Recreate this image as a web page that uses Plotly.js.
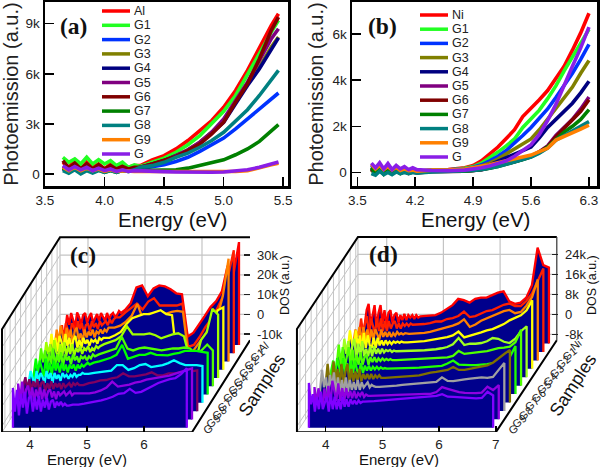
<!DOCTYPE html>
<html><head><meta charset="utf-8">
<script src="https://cdn.plot.ly/plotly-3.0.1.min.js"></script>
<style>html,body{margin:0;padding:0;background:#fff}#p{width:600px;height:467px}</style>
</head><body><div id="p"></div>
<script>
const namesA=['Al','G1','G2','G3','G4','G5','G6','G7','G8','G9','G'];
const namesB=['Ni','G1','G2','G3','G4','G5','G6','G7','G8','G9','G'];
const colorsAB=['#ff0000','#22ff22','#0033ff','#808000','#000080','#800080','#800000','#008000','#008080','#ff8000','#8a1ee6'];
const colorsC=['#ff0000','#ff2000','#ff8000','#ffff00','#a0ff00','#50ff00','#00ff00','#00ffff','#800060','#9000e0','#8000ff'];
const colorsD=['#ff0000','#ff2000','#ff8000','#ffff00','#a0ff20','#50ff00','#20ff00','#807000','#a0a0a0','#9000e0','#8000ff'];

// panel (a) photoemission (k a.u.)
const energyA=[3.65,3.7,3.75,3.8,3.85,3.9,3.95,4,4.05,4.1,4.15,4.2,4.25,4.3,4.4,4.5,4.6,4.7,4.8,4.9,5,5.1,5.2,5.3,5.4,5.46];
const a_Al=[.7,.4,.8,.3,.7,.4,.6,.3,.6,.4,.5,.4,.5,.5,.85,1.1,1.5,2,2.6,3.2,4,5,6.2,7.6,8.9,9.6];
const a_G1=[1,.7,.9,.6,1,.6,.85,.6,.8,.5,.7,.4,.55,.45,.7,.95,1.3,1.75,2.3,3,3.75,4.7,5.9,7.2,8.5,9.2];
const a_G2=[.35,.2,.4,.15,.35,.2,.3,.15,.3,.2,.25,.2,.25,.3,.4,.55,.75,1,1.35,1.75,2.15,2.7,3.3,3.9,4.5,4.85];
const a_G3=[.4,.15,.35,.2,.35,.15,.3,.2,.3,.2,.3,.2,.3,.4,.6,.8,1.1,1.45,1.9,2.5,3.2,4.3,5.4,6.4,7.6,8.2];
const a_G4=[.3,.15,.35,.1,.3,.15,.3,.15,.3,.2,.3,.25,.3,.4,.6,.8,1.1,1.4,1.85,2.45,3.1,4.2,5.3,6.3,7.5,8.15];
const a_G5=[.45,.2,.4,.2,.4,.2,.35,.15,.3,.2,.3,.25,.3,.4,.6,.8,1.1,1.45,1.9,2.5,3.3,4.4,5.5,6.8,8.1,8.7];
const a_G6=[.8,.35,.65,.3,.6,.3,.55,.3,.5,.3,.45,.3,.4,.4,.6,.8,1.05,1.4,1.8,2.4,3.1,4.3,5.4,6.9,8.6,9.4];
const a_G7=[.35,.1,.3,.1,.25,.1,.25,.1,.2,.1,.2,.15,.2,.2,.2,.2,.25,.35,.5,.65,.85,1.15,1.5,1.95,2.6,2.95];
const a_G8=[.2,.05,.25,0,.2,.05,.2,.1,.2,.1,.2,.15,.25,.4,.5,.7,1,1.25,1.6,2,2.5,3.2,3.85,4.7,5.6,6.2];
const a_G9=[.4,.2,.4,.2,.35,.2,.3,.15,.25,.15,.2,.15,.15,.15,.15,.12,.1,.1,.1,.1,.12,.15,.2,.35,.55,.65];
const a_G=[.5,.25,.45,.25,.4,.2,.35,.2,.3,.15,.25,.15,.2,.18,.16,.14,.12,.1,.1,.1,.12,.18,.25,.4,.6,.72];

// panel (b)
const energyB=[3.67,3.72,3.77,3.82,3.87,3.92,3.97,4.02,4.07,4.12,4.17,4.22,4.4,4.6,4.8,4.9,5,5.1,5.2,5.3,5.4,5.5,5.6,5.7,5.8,5.9,6,6.1,6.2,6.3];
const b_Ni=[.2,.1,.22,.08,.2,.05,.15,.05,.12,.04,.08,.05,.1,.12,.2,.3,.5,.8,1.1,1.47,1.85,2.42,2.77,3.15,3.55,4.05,4.6,5.3,6.05,6.9];
const b_G1=[.15,.05,.18,.05,.15,.05,.12,.04,.1,.05,.08,.05,.1,.1,.18,.25,.4,.62,.88,1.15,1.45,1.95,2.3,2.7,3.2,3.75,4.4,5,5.6,6.2];
const b_G2=[.3,.1,.25,.1,.2,.05,.15,.05,.12,.05,.1,.05,.08,.1,.15,.22,.33,.5,.7,.95,1.25,1.6,1.95,2.35,2.75,3.25,3.75,4.3,4.9,5.55];
const b_G3=[.1,-.05,.12,-.02,.1,0,.08,0,.05,0,.05,0,.08,.08,.12,.18,.28,.4,.58,.8,1.05,1.25,1.45,1.85,2.3,2.8,3.2,3.7,4.3,4.85];
const b_G4=[.2,.05,.2,0,.15,0,.12,0,.1,0,.05,0,.06,.06,.1,.15,.22,.33,.48,.65,.8,.95,1.1,1.5,1.95,2.3,2.65,3,3.45,3.95];
const b_G5=[.15,-.05,.15,-.05,.1,-.05,.08,-.03,.05,-.03,.05,0,.04,.03,.05,.08,.12,.2,.28,.38,.47,.58,.7,.9,1.15,1.6,1.95,2.3,2.75,3.27];
const b_G6=[.15,0,.12,-.05,.1,-.05,.1,-.03,.05,-.05,.02,-.02,.04,.03,.05,.08,.12,.2,.28,.37,.46,.57,.7,.88,1.12,1.55,1.9,2.25,2.65,3.15];
const b_G7=[.2,-.05,.15,-.08,.1,-.05,.08,-.05,.05,-.03,.02,0,.04,.03,.05,.08,.12,.18,.26,.35,.45,.56,.68,.85,1.1,1.45,1.75,2,2.3,2.72];
const b_G8=[-.05,-.12,.05,-.1,0,-.1,.02,-.05,0,-.05,0,-.03,.02,.03,.05,.08,.12,.18,.26,.35,.45,.55,.67,.83,1.05,1.4,1.6,1.8,2,2.2];
const b_G9=[.35,.15,.3,.12,.25,.1,.22,.08,.15,.08,.1,.05,.1,.1,.15,.2,.25,.33,.42,.5,.58,.65,.75,.9,1.05,1.4,1.55,1.7,1.88,2.05];
const b_G=[.4,.2,.42,.15,.38,.12,.3,.15,.25,.12,.2,.12,.08,.07,.1,.14,.2,.28,.38,.5,.7,.95,1.2,1.65,2.25,2.95,3.8,4.6,5.4,6.3];

// panel (c) DOS (k a.u.), back to front
const energyC=[3.65,3.685,3.72,3.755,3.79,3.825,3.86,3.895,3.93,3.965,4,4.035,4.07,4.105,4.14,4.175,4.21,4.245,4.28,4.315,4.35,4.385,4.42,4.455,4.49,4.525,4.56,4.595,4.63,4.7,4.8,4.9,5,5.1,5.2,5.3,5.4,5.5,5.6,5.7,5.8,5.9,6,6.1,6.2,6.3,6.4,6.5,6.6,6.7];
const c_Al=[-6,2,-3,3,-1,-4,3.3,1,-3,2,3,-2,1,3,-2,0,2.5,-1,3,1,-1,3,0,2,3,1,2,4,3, 4.5,8,16,17,11.5,15.5,17,16.5,15,13,12.5,-9,-7,-3,1.5,6,9,14,27,22,39];
const c_G1=[-9,1,-6,2,-2,-5,2,0,-4,3,-1,2,-3,1,2,-2,3,0,2,-1,3,1,2,3,1,4,2,4,5, 5,7.5,10,12,9,13,14.7,11,11,11,11,12,-10,-9,-5,0,4,9,15,26,39];
const c_G2=[-6,3,-4,5,0,-5,4,-2,3,-4,2,4,-2,1,-3,3,-1,2,0,3,-1,2,1,3,1,3,2,4,4, 4,5,7,10,16,8,11,11,11.5,11,12,12.5,12,-11,-7,-3,1,5,9,20,39];
const c_G3=[-5,5,-2,3,-4,4,1,-4,5,-1,3,-3,2,4,-2,2,-2,3,0,2,-1,2,1,2,0,3,2,3,3, 3,4.3,6,10,13,14,15,15,16,17,15,14.5,-11,-11,-9,-7,-3,2,10,17,18.5];
const c_G4=[-4,5,-1,4,-3,6,0,-3,4,-2,5,-2,3,-1,4,-2,2,0,3,-1,2,1,3,0,2,1,3,2,3, 4,5,6,8,13,9,9,9,9.5,8.5,7,8,9,9.5,8,-3,-5,6,10,22,19];
const c_G5=[-4,6,-1,5,-3,4,-2,6,-3,3,-1,4,-3,3,0,2,-2,3,0,2,-1,2,1,2,0,2,1,3,2, 3,4,5,6,12,6,5,6,6.5,6,5.5,5,5.5,6,6,6.5,6,3,5,8,5];
const c_G6=[-3,5,-2,4,0,-4,5,-2,3,-3,4,-1,3,-2,3,-1,2,-2,2,0,2,-1,2,0,2,1,2,3,2, 3,3.7,4.5,5.5,7,12,5,6,7,7,8,7,7,6.7,7.5,8,9,9,9,8.5,8];
const c_G7=[-3,3,-1,-4,3,-2,2,0,-3,3,-1,2,-3,2,-1,1,-2,2,0,1,-1,1,0,2,0,1,1,2,1.5, 1.5,2,2.5,2.8,3.2,6,6,3.5,4.4,6,6.5,5,5.5,6,7,8.4,7,6,6,6,5.5];
const c_G8=[0,4,-2,3,-3,2,-1,3,-3,1,2,-3,1,-2,2,-2,1,-1,1,-2,1,-1,0,1,-1,1,0,1,0, 0,1,1.5,2.4,2.6,3.5,4,6,4.5,4.5,5,5.5,6.5,5,5,6,6,6.5,7,7,7.5];
const c_G9=[5,-3,6,-4,2,4,-3,3,-4,2,-2,3,-3,2,-3,1,2,-2,1,-3,1,-1,0,1,-1,0,1,-1,0, 0,0,0,.5,1.5,3,6,3.5,4,4.5,5.5,6,7,7.6,8,8.5,9,10,11,12,12.7];
const c_G=[7,-5,6,-7,4,-3,5,-6,2,3,-5,2,-4,3,-5,1,-3,2,-4,0,1,-3,0,-2,0,-2,-1,-2,-2, -1.5,-1.5,-1,-.5,0,.7,1.5,2.5,4,4.3,6.5,4.5,5,6.7,8,9.5,10.5,11.5,12,14,17];

// panel (d)
const energyD=[3.65,3.685,3.72,3.755,3.79,3.825,3.86,3.895,3.93,3.965,4,4.035,4.07,4.105,4.14,4.175,4.21,4.245,4.28,4.315,4.35,4.385,4.42,4.455,4.49,4.525,4.56,4.595,4.63,4.7,4.8,4.9,5,5.1,5.2,5.3,5.4,5.5,5.6,5.7,5.8,5.9,6,6.1,6.2,6.3,6.4,6.5,6.6,6.7,6.8,6.9];
const d_Ni=[-3,3,5.5,-3,1,5,-4,2,5,-2,3,-3,2,3,-2,1,2,-2,1,-1,1.5,-1,1,0,1,-.5,1,0,.5, .6,.8,1,2,3.5,5,7.5,7,6,7.5,8,8,9,10,10.5,6.5,5.5,6,8,13,28,21,20];
const d_G1=[-4,3,-3,1,4,-4,3,0,-3,3,-2,3,-2,2,-2,2,-1,1,2,-1,1,-1,1,0,1,0,1,.5,.5, .6,.8,1.2,1.8,1.8,2.8,3.2,4,5.8,3.6,4,5,6,6.4,7.5,8.5,9,8,8,10,13,18,23];
const d_G2=[-3,2,-1,3,-3,3,-2,2,-3,2,-2,2,0,-2,2,-1,1,-1,1,-1,.5,-.5,1,0,.5,0,.5,.2,.2, .3,.4,.6,1,1.6,2.2,3,3.5,4.4,6,3,4,5.5,6.5,7.5,8.5,9.3,9.8,8.5,9,11.5,15,22];
const d_G3=[-2,5,0,-3,5,-2,3,-3,4,-2,3,-1,-2,2,-2,2,-1,1,-1,1,-.5,.5,-.5,.5,0,.5,0,.5,.2, .2,.3,.5,.7,1.1,1.4,1.8,2.3,3,4.5,2.2,2.8,3.5,4.2,5,5.5,6.5,7.5,9,10,11,13,17];
const d_G4=[-3,5,-1,4,-3,2,5,-3,3,-2,4,-2,1,-2,2,-2,2,-1,1,-1,1,-.5,.5,0,.5,-.3,.3,0,0, 0,.1,.2,.3,.4,.5,.8,1.2,1.7,2.8,5.3,2.5,3,3,3.3,4,5.3,5,3.8,3.3,5,8,10];
const d_G5=[-2,6,-2,5,-3,1,5,-3,4,-3,2,-2,3,-2,1,2,-2,1,-1,1,-1,.5,-.5,.5,-.3,.3,-.2,.2,-.2, -.2,-.1,0,.1,.2,.3,.4,.5,.7,.9,1.5,3.5,2.3,2.6,3,3,3.4,4,4.6,4.8,5.2,7,12];
const d_G6=[-1,3,-3,4,1,-3,4,-3,2,-3,3,-2,3,-1,-2,2,-2,1,-1,1,-1,.5,-.5,.5,-.5,.3,-.3,0,-.2, -.2,-.1,0,0,.1,.2,.3,.4,.6,.9,1.8,3,1.4,1.2,1.2,1.2,1.3,1.6,2,2.4,3.2,4.5,8.8];
const d_G7=[-3,5,-2,-4,6,-2,3,-4,5,-3,2,5,-3,3,-2,2,-2,3,-2,1,-1,1,-1,1,-1,.5,-.5,.5,-.6, -.6,-.5,-.3,-.2,0,.2,.4,1,1.5,1.8,2.2,2.6,3.8,2.6,2.6,3,3.3,3.8,4.4,5.5,7.4,9,10.6];
const d_G8=[-2,6,-1,3,-4,4,-1,5,-4,3,-3,2,-3,3,-3,2,-2,1,-2,2,-2,1,-1,0,1,-1,0,-.5,-.8, -.8,-.7,-.5,-.3,0,.2,.3,.5,.7,.9,1.2,3,1.6,1.5,2,2.2,2.5,2.8,3,2.8,3.2,6,8.8];
const d_G9=[2.5,-4,2,-3,-5,2,-4,3,-5,5,1,-3,4,-3,2,-3,2,-2,1,-2,1,-2,0,-1,.5,-1.5,-.5,-1,-1, -1,-.9,-.8,-.7,-.6,-.6,-.5,-.4,-.3,-.2,-.2,.5,2.5,1.8,1,.5,.2,0,.1,.3,2.6,1.3,3.3];
const d_G=[7.5,-1,3,-4,2,-3,4,-3,0,2,-4,3,-3,2,-3,1,-3,2,-2,1,-2,1,-1,.5,-1,.5,-.5,0,0, 0,.2,.4,.6,.8,1,1.2,1.4,1.5,1.6,1.8,2,2.3,3,2,1.9,1.7,1.5,1.5,1.3,1.5,4,2.5];

const seriesA=[a_Al,a_G1,a_G2,a_G3,a_G4,a_G5,a_G6,a_G7,a_G8,a_G9,a_G];
const seriesB=[b_Ni,b_G1,b_G2,b_G3,b_G4,b_G5,b_G6,b_G7,b_G8,b_G9,b_G];
const seriesC=[c_Al,c_G1,c_G2,c_G3,c_G4,c_G5,c_G6,c_G7,c_G8,c_G9,c_G];
const seriesD=[d_Ni,d_G1,d_G2,d_G3,d_G4,d_G5,d_G6,d_G7,d_G8,d_G9,d_G];

const W=600,H=467;
const FONT='"Liberation Sans",Arial,sans-serif', SERIF='"Liberation Serif","Times New Roman",serif';
const dx=(a,b)=>[a/W,b/W], dy=(top,bot)=>[1-bot/H,1-top/H];
const traces=[], shapes=[], annos=[];
const txt=(text,x,y,size,angle,extra)=>annos.push(Object.assign({text,x,y,xref:'paper',yref:'paper',xanchor:'center',yanchor:'middle',showarrow:false,textangle:angle||0,font:{family:FONT,size,color:'#111'}},extra||{}));
const px=(x,y,size,t,angle,f)=>txt(t,x/W,1-y/H,size,angle,f);

function flat(ax,E,series,names,colors,lx,ly0,lstep){
  const sfx=ax==1?'':ax;
  series.forEach((v,i)=>{
    traces.push({x:E,y:v,xaxis:'x'+sfx,yaxis:'y'+sfx,type:'scatter',mode:'lines',name:names[i],line:{color:colors[i],width:3.6},hoverinfo:'skip',showlegend:false});
    const y=ly0+lstep*i;
    shapes.push({type:'line',xref:'paper',yref:'paper',x0:lx/W,x1:(lx+28)/W,y0:1-y/H,y1:1-y/H,line:{color:colors[i],width:3.5}});
    annos.push({text:names[i],x:(lx+30)/W,y:1-y/H,xref:'paper',yref:'paper',xanchor:'left',yanchor:'middle',showarrow:false,font:{family:FONT,size:12.5,color:'#222'}});
  });
}
flat(1,energyA,seriesA,namesA,colorsAB,102,11,14.3);
flat(2,energyB,seriesB,namesB,colorsAB,420,15,14.2);

// pseudo-3D waterfall: every point goes through one oblique projection
function waterfall(ax,E,series,names,colors,o){
  const sfx=ax;
  const X=(e,t)=>e+t*o.depthPx/o.pxPerE, Y=(z,t)=>z-(1-t)*o.depthZ;
  const add=(xs,ys,color,width)=>traces.push({x:xs,y:ys,xaxis:'x'+sfx,yaxis:'y'+sfx,type:'scatter',mode:'lines',cliponaxis:false,line:{color,width},hoverinfo:'skip',showlegend:false});
  const G='#c4c4c4';
  o.eGrid.forEach(e=>add([X(e,1),X(e,1)],[Y(o.zMin,1),Y(o.zMax,1)],G,1.2));
  o.zTicks.forEach(z=>add([X(o.e0,1),X(o.e1,1)],[Y(z,1),Y(z,1)],G,1.2));
  o.zTicks.forEach(z=>add([X(o.e0,0),X(o.e0,1)],[Y(z,0),Y(z,1)],G,1));
  add([X(o.e0,0),X(o.e0,1)],[Y(o.zMin,0),Y(o.zMin,1)],G,1);
  series.forEach((_,i)=>{const t=o.tOf(i);add([X(o.e0,t),X(o.e0,t)],[Y(o.zMin,t),Y(o.zMax,t)],G,1);});
  add([X(o.e0,1),X(o.e0,1)],[Y(o.zMin,1),Y(o.zMax,1)],G,1.2);
  series.forEach((v,i)=>{
    const t=o.tOf(i);
    const xs=[E[0],...E,E[E.length-1]].map(e=>X(e,t));
    const ys=[o.zMin,...v,o.zMin].map(z=>Y(z,t));
    traces.push({x:xs,y:ys,xaxis:'x'+sfx,yaxis:'y'+sfx,type:'scatter',mode:'lines',fill:'toself',fillcolor:'#00008c',line:{width:0},cliponaxis:false,hoverinfo:'skip',showlegend:false});
    traces.push({x:xs,y:ys,xaxis:'x'+sfx,yaxis:'y'+sfx,type:'scatter',mode:'lines',name:names[i],line:{color:colors[i],width:2.3},cliponaxis:false,hoverinfo:'skip',showlegend:false});
    px(o.labelX+o.labelDepth*t,o.labelY-92*t,11,names[i],-38,{font:{family:FONT,size:11,color:'#222'}});
  });
  const K='#000';
  add([X(o.e0,0),X(o.e1,0),X(o.e1,1)],[Y(o.zMin,0),Y(o.zMin,0),Y(o.zMin,1)],K,2);
  add([X(o.e0,0),X(o.e0,0),X(o.e0,1),X(o.e1,1)],[Y(o.zMin,0),Y(o.zMax,0),Y(o.zMax,1),Y(o.zMax,1)],K,2);
  if(o.spine) add([X(o.e1,1),X(o.e1,1)],[Y(o.zMin,1),Y(o.zMax,1)],'#333',1.2);
}
const tOfC=i=>.05+.09*(10-i), tOfD=i=>.05+.0914*(10-i);
const optC={pxPerE:57,depthPx:58,depthZ:92/1.97,e0:3.509,e1:6.842,zMin:-13.2,zMax:39.1,eGrid:[4,5,6],zTicks:[-10,0,10,20,30],tOf:tOfC,labelX:205,labelDepth:61,labelY:434,spine:false};
const optD={pxPerE:56.7,depthPx:61,depthZ:92/2.5,e0:3.493,e1:7,zMin:-10.4,zMax:30.9,eGrid:[4,5,6],zTicks:[-8,0,8,16,24],tOf:tOfD,labelX:510,labelDepth:68,labelY:434,spine:true};
waterfall(3,energyC,seriesC,namesA,colorsC,optC);
waterfall(4,energyD,seriesD,namesB,colorsD,optD);

const tickf={family:FONT,size:13.5,color:'#222'};
const flatX=(d,r,v)=>({domain:d,range:r,tickvals:v,ticktext:v.map(q=>q.toFixed(1)),ticks:'inside',ticklen:9,tickwidth:1.5,tickcolor:'#000',showline:true,linewidth:2.5,linecolor:'#000',mirror:true,showgrid:false,zeroline:false,tickfont:tickf});
const flatY=(d,r,v)=>({domain:d,range:r,tickvals:v,ticktext:v.map(q=>q?q+'k':'0'),ticks:'inside',ticklen:9,tickwidth:1.5,tickcolor:'#000',showline:true,linewidth:2.5,linecolor:'#000',mirror:true,showgrid:false,zeroline:false,tickfont:tickf,title:{text:'Photoemission (a.u.)',font:{family:FONT,size:20,color:'#222'},standoff:4}});
const waveX=(l,r,eAt,v)=>({domain:dx(l,r),range:[eAt(l),eAt(r)],tickvals:v,ticks:'inside',ticklen:6,tickwidth:1.5,tickcolor:'#000',ticklabelstandoff:2,showgrid:false,zeroline:false,showline:false,tickfont:{family:FONT,size:13.5,color:'#222'}});
const waveY=(scale,xref,v)=>({domain:dy(235,432),range:[(314.3-432)/scale,(314.3-235)/scale],anchor:xref,side:'right',tickvals:v,ticktext:v.map(q=>q?q+'k':'0'),ticks:'inside',ticklen:6,tickwidth:1.5,tickcolor:'#222',ticklabelstandoff:6,showgrid:false,zeroline:false,showline:false,tickfont:{family:FONT,size:13,color:'#222'}});

const layout={width:W,height:H,margin:{l:0,r:0,t:0,b:0},paper_bgcolor:'#fff',plot_bgcolor:'rgba(0,0,0,0)',showlegend:false,shapes,annotations:annos,
 xaxis:flatX(dx(45,288),[3.5,5.54],[3.5,4,4.5,5,5.5]),
 yaxis:flatY(dy(2,186),[-.72,10.3],[0,3,6,9]),
 xaxis2:flatX(dx(352,597),[3.436,6.397],[3.5,4.2,4.9,5.6,6.3]),
 yaxis2:flatY(dy(2,186),[-.59,7.39],[0,2,4,6]),
 xaxis3:waveX(0,250,p=>4+(p-30)/57,[4,5,6]),
 yaxis3:waveY(1.97,'x3',[-10,0,10,20,30]),
 xaxis4:waveX(295,558,p=>4+(p-325.7)/56.7,[4,5,6,7]),
 yaxis4:waveY(2.5,'x4',[-8,0,8,16,24])
};
layout.yaxis2.anchor='x2';layout.xaxis2.anchor='y2';layout.xaxis3.anchor='y3';layout.xaxis4.anchor='y4';
const serifBold={font:{family:SERIF,size:23.5,color:'#111'}};
px(73,26,23,'<b>(a)</b>',0,serifBold);
px(382,26,23,'<b>(b)</b>',0,serifBold);
px(83,255,23,'<b>(c)</b>',0,serifBold);
px(383,254,23,'<b>(d)</b>',0,serifBold);
px(172,219,20.5,'Energy (eV)');
px(475,219,20.5,'Energy (eV)');
px(87,459.5,15,'Energy (eV)');
px(399,459.5,15,'Energy (eV)');
px(285,285,12.5,'DOS (a.u.)',-90);
px(592,285,12.5,'DOS (a.u.)',-90);
px(262,385,18,'Samples',-57);
px(573,385,18,'Samples',-57);
Plotly.newPlot('p',traces,layout,{displayModeBar:false,staticPlot:true});
</script></body></html>
